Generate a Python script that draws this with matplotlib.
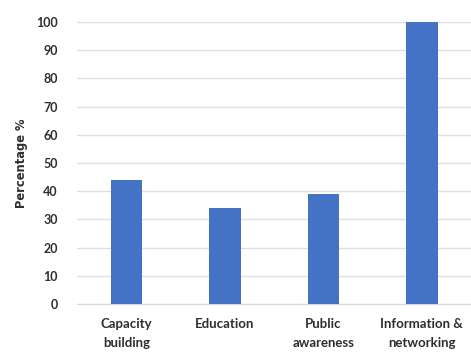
import matplotlib.pyplot as plt

# Share of respondents by activity type
categories = ["Capacity\nbuilding", "Education", "Public\nawareness", "Information &\nnetworking"]
percentages = [44, 34, 39, 100]
y_ticks = list(range(0, 101, 10))

plt.rcParams['font.family'] = ['Lato', 'DejaVu Sans']

fig = plt.figure(figsize=(4.71, 3.56), dpi=100)
ax = fig.add_axes([0.164, 0.146, 0.836, 0.792])

x = range(len(categories))
ax.bar(x, percentages, width=0.32, color="#4472C4", zorder=3)

ax.set_xlim(-0.5, 3.5)
ax.set_ylim(0, 100)
ax.set_yticks(y_ticks)
ax.set_yticklabels([str(t) for t in y_ticks], fontsize=9, fontweight="bold", color="#2e2e2e")
ax.set_xticks(list(x))
ax.set_xticklabels(categories, fontsize=9.5, fontweight="bold", color="#2e2e2e",
                   linespacing=1.75, va="top")

ax.grid(axis="y", color="#e0e0e0", linewidth=1, zorder=0)
for side in ["left", "right", "top"]:
    ax.spines[side].set_visible(False)
ax.spines["bottom"].set_color("#d9d9d9")
ax.tick_params(axis="both", length=0)
ax.tick_params(axis="y", pad=14)
ax.tick_params(axis="x", pad=10)

ax.set_ylabel("Percentage %", fontsize=8.3, fontweight="bold", color="#2e2e2e",
              family="DejaVu Sans", labelpad=6)

fig.savefig("out.png", dpi=100)
